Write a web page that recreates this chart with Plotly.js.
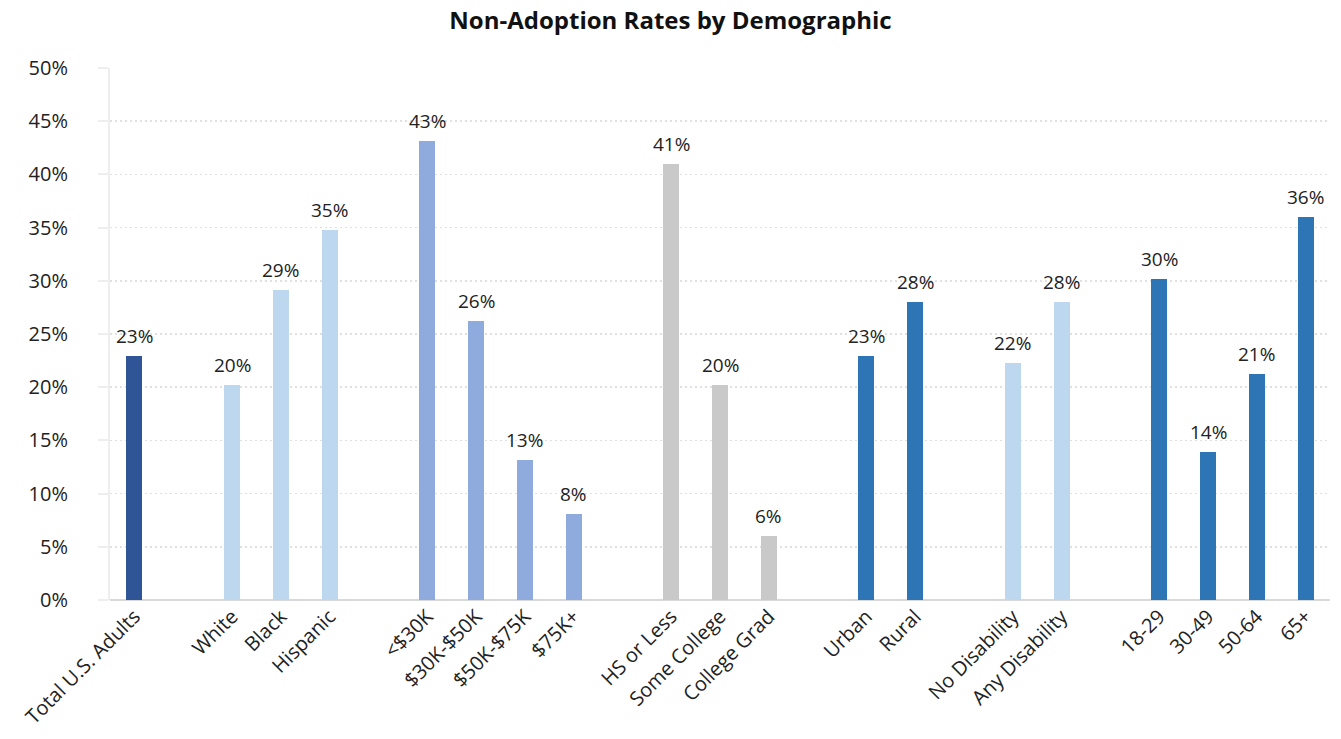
<!DOCTYPE html>
<html>
<head>
<meta charset="utf-8">
<script src="https://cdn.plot.ly/plotly-3.0.1.min.js"></script>
<style>html,body{margin:0;padding:0;background:#fff;}#chart{width:1341px;height:739px;}</style>
</head>
<body>
<div id="chart"></div>
<script>
const categories = ["Total U.S. Adults","White","Black","Hispanic","<$30K","$30K-$50K","$50K-$75K","$75K+","HS or Less","Some College","College Grad","Urban","Rural","No Disability","Any Disability","18-29","30-49","50-64","65+"];
const values = [22.9,20.2,29.1,34.8,43.1,26.2,13.2,8.1,41.0,20.2,6.0,22.9,28.0,22.3,28.0,30.2,13.9,21.2,36.0];
const groups = [0,1,1,1,2,2,2,2,3,3,3,4,4,5,5,6,6,6,6];
const groupColors = ["#2F5597","#BDD7EE","#8FAADC","#C9C9C9","#2E75B6","#BDD7EE","#2E75B6"];
const yTicks = [0,5,10,15,20,25,30,35,40,45,50];

// slot positions: one empty slot between groups
const positions = [];
let slot = 0;
for (let i = 0; i < categories.length; i++) {
  if (i > 0 && groups[i] !== groups[i-1]) slot += 1;
  positions.push(slot);
  slot += 1;
}
const nSlots = slot;

const font = "'Open Sans', Lato, sans-serif";

const trace = {
  type: "bar",
  x: positions,
  y: values,
  width: 0.33,
  marker: {color: groups.map(g => groupColors[g])},
  hoverinfo: "none"
};

const annotations = values.map((v, i) => ({
  x: positions[i], y: v, xref: "x", yref: "y",
  text: Math.round(v) + "%", showarrow: false,
  xanchor: "center", yanchor: "bottom", yshift: 5,
  font: {family: font, size: 19, color: "#222"}
}));

const layout = {
  width: 1341, height: 739,
  margin: {l: 110, r: 11, t: 68, b: 139},
  paper_bgcolor: "#fff", plot_bgcolor: "#fff",
  title: {text: "<b>Non-Adoption Rates by Demographic</b>", x: 0.5, xanchor: "center", y: 0.972, yanchor: "middle",
          font: {family: font, size: 24, color: "#111"}},
  showlegend: false,
  bargap: 0,
  annotations: annotations,
  xaxis: {
    range: [-0.5, nSlots - 0.5],
    tickmode: "array", tickvals: positions, ticktext: categories,
    tickangle: -45,
    tickfont: {family: font, size: 20, color: "#222"},
    showgrid: false, zeroline: false,
    showline: false, ticks: ""
  },
  yaxis: {
    range: [0, 50],
    tickmode: "array", tickvals: yTicks, ticktext: yTicks.map(v => v + "%"),
    tickfont: {family: font, size: 20, color: "#222"},
    showgrid: true, gridcolor: "#e0e0e0", griddash: "2px,3px", gridwidth: 1.5,
    zeroline: true, zerolinecolor: "#d9d9d9", zerolinewidth: 2,
    showline: true, linecolor: "#eeeeee", linewidth: 2,
    ticks: "outside", ticklen: 10, tickcolor: "#eeeeee", tickwidth: 2,
    ticklabelstandoff: 26
  }
};

Plotly.newPlot("chart", [trace], layout, {displayModeBar: false, staticPlot: true});
</script>
</body>
</html>
